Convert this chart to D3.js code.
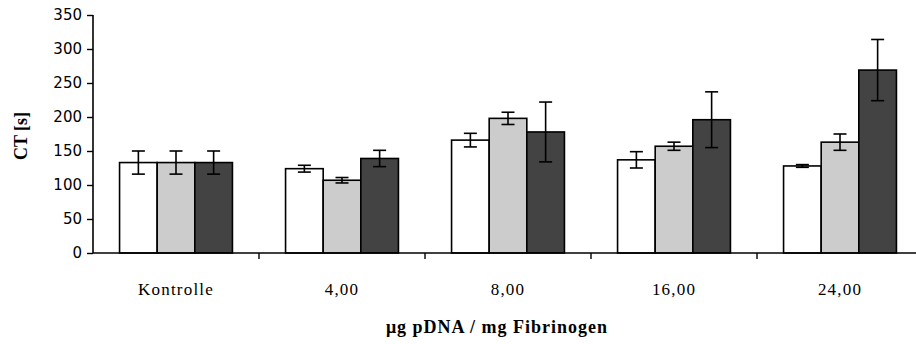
<!DOCTYPE html>
<html>
<head>
<meta charset="utf-8">
<script src="https://cdn.jsdelivr.net/npm/d3@7"></script>
<style>
  html, body { margin: 0; padding: 0; background: #fff; }
  svg { display: block; }
  .serif { font-family: "Liberation Serif", "Times New Roman", "DejaVu Serif", serif; }
  .sans { font-family: "DejaVu Sans", Verdana, sans-serif; }
</style>
</head>
<body>
<svg id="chart" width="916" height="344"></svg>
<script>
const categories = ["Kontrolle", "4,00", "8,00", "16,00", "24,00"];
const seriesNames = ["s1", "s2", "s3"];
const values1 = [133, 124, 166, 137, 128];
const errors1 = [17, 5, 10, 12, 2];
const values2 = [133, 107, 198, 157, 163];
const errors2 = [17, 4, 9, 6, 12];
const values3 = [133, 139, 178, 196, 269];
const errors3 = [17, 12, 44, 41, 45];
const yTicks = [0, 50, 100, 150, 200, 250, 300, 350];
const colors = ["#ffffff", "#cccccc", "#434343"];
const yTitle = "CT [s]";
const xTitle = "\u03bcg pDNA / mg Fibrinogen";

const svg = d3.select("#chart");
const mLeft = 93, mRight = 923, mTop = 15, mBottom = 253;

const x0 = d3.scaleBand().domain(categories).range([mLeft, mRight]).padding(0);
const bw = x0.bandwidth();
const x1 = d3.scaleBand().domain(seriesNames).range([bw * 0.16, bw * 0.84]).padding(0);
const y = d3.scaleLinear().domain([0, 350]).range([mBottom, mTop]);

const allVals = [values1, values2, values3];
const allErrs = [errors1, errors2, errors3];
const data = [];
categories.forEach((c, i) => {
  seriesNames.forEach((s, j) => {
    data.push({ c, s, j, v: allVals[j][i], e: allErrs[j][i] });
  });
});

// bars
svg.append("g").selectAll("rect").data(data).join("rect")
  .attr("x", d => x0(d.c) + x1(d.s))
  .attr("y", d => y(d.v))
  .attr("width", x1.bandwidth())
  .attr("height", d => y(0) - y(d.v))
  .attr("fill", d => colors[d.j])
  .attr("stroke", "#000")
  .attr("stroke-width", 1.6);

// error bars
const eg = svg.append("g").attr("stroke", "#000").attr("stroke-width", 1.6);
const cap = 6.5;
data.forEach(d => {
  const cx = x0(d.c) + x1(d.s) + x1.bandwidth() / 2;
  eg.append("line").attr("x1", cx).attr("x2", cx).attr("y1", y(d.v + d.e)).attr("y2", y(d.v - d.e));
  eg.append("line").attr("x1", cx - cap).attr("x2", cx + cap).attr("y1", y(d.v + d.e)).attr("y2", y(d.v + d.e));
  eg.append("line").attr("x1", cx - cap).attr("x2", cx + cap).attr("y1", y(d.v - d.e)).attr("y2", y(d.v - d.e));
});

// y axis
const yAxis = d3.axisLeft(y).tickValues(yTicks).tickSize(6).tickPadding(5).tickFormat(d3.format("d"));
const gy = svg.append("g").attr("transform", `translate(${mLeft},0)`).call(yAxis);
gy.attr("font-family", null);
gy.select(".domain").attr("d", `M0,${mTop}V${mBottom}`).attr("stroke", "#000").attr("stroke-width", 1.6);
gy.selectAll(".tick line").attr("stroke", "#000").attr("stroke-width", 1.4);
gy.selectAll(".tick text").attr("class", "sans").attr("font-size", 15).attr("fill", "#000");

// x axis
const gx = svg.append("g").attr("transform", `translate(0,${mBottom})`);
gx.append("line").attr("x1", mLeft).attr("x2", 916).attr("y1", 0).attr("y2", 0).attr("stroke", "#000").attr("stroke-width", 1.6);
categories.forEach((c, i) => {
  const xb = x0(c);
  if (i > 0) {
    gx.append("line").attr("x1", xb).attr("x2", xb).attr("y1", 0).attr("y2", 6).attr("stroke", "#000").attr("stroke-width", 1.4);
  }
  gx.append("text")
    .attr("class", "serif")
    .attr("x", xb + bw / 2)
    .attr("y", 42)
    .attr("text-anchor", "middle")
    .attr("font-size", 17)
    .attr("letter-spacing", 1.2)
    .attr("fill", "#000")
    .text(c);
});

// titles
svg.append("text")
  .attr("class", "serif")
  .attr("transform", `translate(27,136) rotate(-90)`)
  .attr("text-anchor", "middle")
  .attr("font-weight", "bold")
  .attr("font-size", 18)
  .attr("fill", "#000")
  .text(yTitle);

svg.append("text")
  .attr("class", "serif")
  .attr("x", 497)
  .attr("y", 333)
  .attr("text-anchor", "middle")
  .attr("font-weight", "bold")
  .attr("font-size", 18)
  .attr("letter-spacing", 1)
  .attr("fill", "#000")
  .text(xTitle);
</script>
</body>
</html>
